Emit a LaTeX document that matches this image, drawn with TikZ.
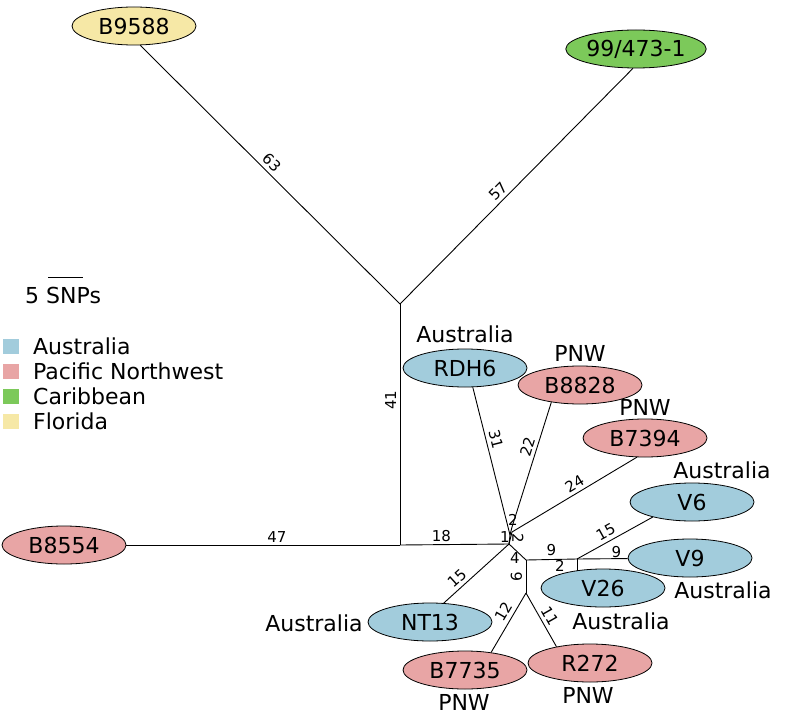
\documentclass[tikz,border=0pt]{standalone}
\usepackage{fontspec}
\setmainfont{DejaVu Sans}
\usetikzlibrary{shapes.geometric}
\definecolor{aus}{HTML}{A2CCDC}
\definecolor{pnw}{HTML}{E8A5A5}
\definecolor{car}{HTML}{7CC95A}
\definecolor{flo}{HTML}{F6E8A6}
\tikzset{
  taxon/.style={ellipse, draw=black, line width=0.8pt, minimum width=124pt, minimum height=38pt, inner sep=0pt, font=\fontsize{22}{26}\selectfont},
  place/.style={font=\fontsize{22}{26}\selectfont, inner sep=0pt},
  br/.style={line width=0.9pt},
  bl/.style={font=\fontsize{15}{18}\selectfont, inner sep=3.5pt},
  tiny/.style={font=\fontsize{15}{18}\selectfont, inner sep=0pt, anchor=center},
  legsq/.style={minimum width=16pt, minimum height=15pt, inner sep=0pt},
}
\begin{document}
\begin{tikzpicture}[x=1pt,y=-1pt]
\useasboundingbox (0,0) rectangle (800,714);
% taxa
\node[taxon, fill=flo] (B9588) at (134,26) {B9588};
\node[taxon, fill=car] (P99) at (636,49) {99/473-1};
\node[taxon, fill=pnw] (B8554) at (64,545) {B8554};
\node[taxon, fill=aus] (RDH6) at (465,368) {RDH6};
\node[taxon, fill=pnw] (B8828) at (580,385) {B8828};
\node[taxon, fill=pnw] (B7394) at (645,438) {B7394};
\node[taxon, fill=aus] (V6) at (692,502) {V6};
\node[taxon, fill=aus] (V9) at (690,558) {V9};
\node[taxon, fill=aus] (V26) at (603,588) {V26};
\node[taxon, fill=aus] (NT13) at (430,622) {NT13};
\node[taxon, fill=pnw] (B7735) at (465,670) {B7735};
\node[taxon, fill=pnw] (R272) at (590,663) {R272};
% region labels
\node[place] (lRDH6) at (465,334) {Australia};
\node[place] (lB8828) at (580,353) {PNW};
\node[place] (lB7394) at (645,407) {PNW};
\node[place] (lV6) at (722,470) {Australia};
\node[place] (lV9) at (723,590) {Australia};
\node[place] (lV26) at (621,621) {Australia};
\node[place] (lNT13) at (314,623) {Australia};
\node[place] (lB7735) at (464,702) {PNW};
\node[place] (lR272) at (588,695) {PNW};
% internal vertices
\coordinate (J1) at (400,304);
\coordinate (J2) at (400,545);
\coordinate (H0) at (509,544);
\coordinate (Ha) at (510,535);
\coordinate (Hb) at (512,532);
\coordinate (Hc) at (512,527);
\coordinate (Hd) at (526,560);
\coordinate (Ve) at (577,559);
\coordinate (Vf) at (577,570.5);
\coordinate (He) at (526,593);
% branches
\draw[br] (B9588.-72) -- node[bl, sloped, above, pos=0.48] {63} (J1);
\draw[br] (J1) -- node[bl, sloped, above, pos=0.45] {57} (P99.-99);
\draw[br] (J2) -- node[bl, sloped, above, pos=0.6] {41} (J1);
\draw[br] (B8554.east) -- node[bl, above, pos=0.55, inner sep=2pt] {47} (J2);
\draw[br] (J2) -- node[bl, above, pos=0.38, inner sep=2pt] {18} (H0);
\draw[br] (NT13.54) -- node[bl, sloped, above, pos=0.3] {15} (H0);
\draw[br] (H0) -- node[tiny, xshift=-4.5pt, yshift=2.5pt] {1} (Ha);
\draw[br] (H0) -- (Hb);
\node[tiny, rotate=-90] (l2r) at (518,538) {2};
\draw[br] (RDH6.-68) -- node[bl, sloped, above, pos=0.37] {31} (Ha);
\draw[br] (Ha) -- node[tiny, pos=1, xshift=1pt, yshift=7pt] {2} (Hc);
\draw[br] (Hc) -- node[bl, sloped, above, pos=0.62] {22} (B8828.-149);
\draw[br] (Hb) -- node[bl, sloped, above, pos=0.54] {24} (B7394.-113);
\draw[br] (H0) -- node[tiny, xshift=-2.5pt, yshift=-6pt] {4} (Hd);
\draw[br] (Hd) -- node[tiny, yshift=9.5pt] {9} (Ve);
\draw[br] (Ve) -- node[tiny, pos=0.78, yshift=7pt] {9} (V9);
\draw[br] (Ve) -- node[bl, sloped, above, pos=0.44] {15} (V6.-159);
\draw[br] (Ve) -- node[tiny, xshift=-17pt, yshift=-1pt] {2} (Vf);
\draw[br] (He) -- node[bl, sloped, above, pos=0.5] {6} (Hd);
\draw[br] (B7735.34) -- node[bl, sloped, above, pos=0.6] {12} (He);
\draw[br] (He) -- node[bl, sloped, above, pos=0.52] {11} (R272.154);
% scale
\node[place, anchor=west] (scale) at (25,295) {5 SNPs};
\coordinate (sbL) at (48,277);
\coordinate (sbR) at (83,277);
\draw[br] (sbL) -- (sbR);
% legend
\node[legsq, fill=aus] (sqA) at (11,346) {};
\node[legsq, fill=pnw] (sqP) at (11,371) {};
\node[legsq, fill=car] (sqC) at (11,396) {};
\node[legsq, fill=flo] (sqF) at (11,421) {};
\node[place, anchor=west] (tA) at (33,346) {Australia};
\node[place, anchor=west] (tP) at (33,371) {Pacific Northwest};
\node[place, anchor=west] (tC) at (33,396) {Caribbean};
\node[place, anchor=west] (tF) at (33,421) {Florida};
\end{tikzpicture}
\end{document}
